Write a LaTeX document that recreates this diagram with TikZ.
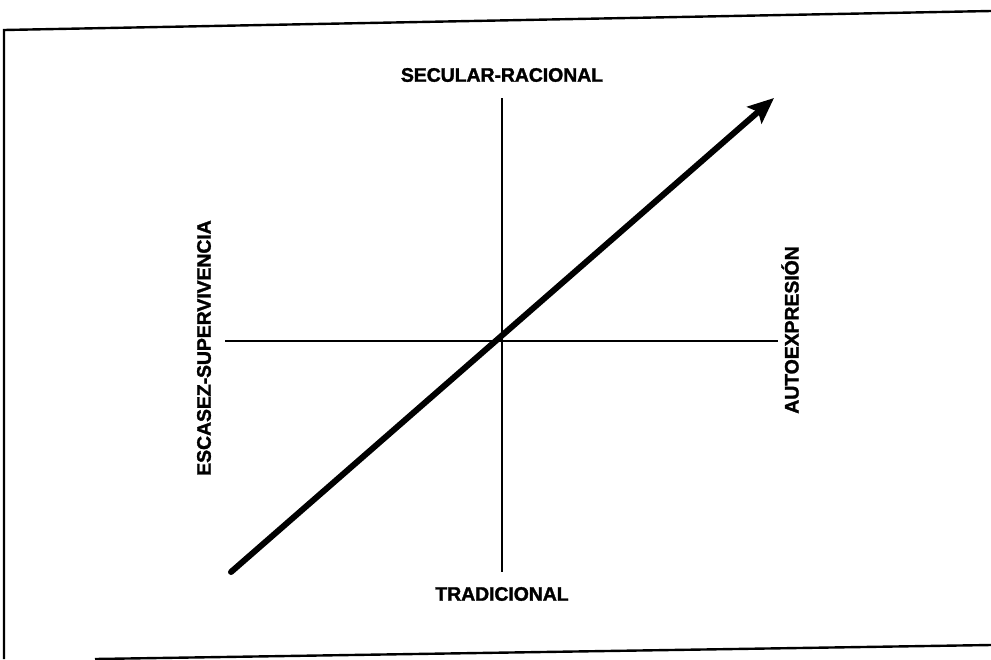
\documentclass[tikz,border=0pt]{standalone}
\usepackage{fontspec}
\newfontfamily\lblfont{Liberation Sans Bold}[FakeBold=1.6,LetterSpace=-0.5]
\usetikzlibrary{arrows.meta}
\begin{document}
\begin{tikzpicture}[x=1pt,y=-1pt,
  lbl/.style={font=\lblfont\fontsize{19.5}{22}\selectfont, inner sep=0pt},
  axis/.style={line width=1.8pt, black},
  frame/.style={line width=2.4pt, black},
  trend/.style={line width=6pt, black, line cap=round, -{Stealth[length=26pt,width=22pt,inset=5pt]}}]
\useasboundingbox (0,0) rectangle (991,659);
% frame (slightly skewed scan)
\coordinate (ftl) at (4,30);
\coordinate (ftr) at (991,11);
\coordinate (fbl) at (4,659);
\coordinate (fbb) at (95,659);
\coordinate (fbr) at (991,645);
\draw[frame] (ftr) -- (ftl) -- (fbl);
\draw[frame] (fbb) -- (fbr);
% axes
\coordinate (vt) at (502,98);
\coordinate (vb) at (502,572);
\coordinate (hl) at (225,341);
\coordinate (hr) at (778,341);
\draw[axis] (vt) -- (vb);
\draw[axis] (hl) -- (hr);
% labels
\node[lbl] (top) at (502,75) {SECULAR-RACIONAL};
\node[lbl] (bot) at (502,594) {TRADICIONAL};
\node[lbl, rotate=90] (left) at (204,348) {ESCASEZ-SUPERVIVENCIA};
\node[lbl, rotate=90] (right) at (790,330) {AUTOEXPRESIÓN};
% trend arrow
\coordinate (as) at (231,572);
\coordinate (ae) at (774,98);
\draw[trend] (as) -- (ae);
\end{tikzpicture}
\end{document}
